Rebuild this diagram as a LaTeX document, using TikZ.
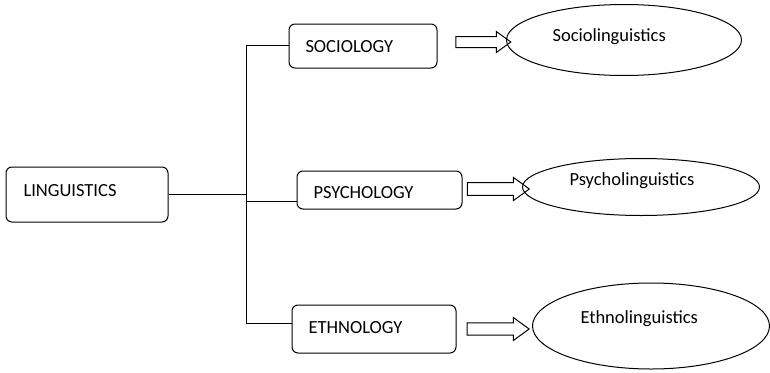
\documentclass[tikz,border=0pt]{standalone}
\usepackage{fontspec}
\setmainfont{Carlito}
\usetikzlibrary{shapes.geometric,shapes.arrows}
\begin{document}
\begin{tikzpicture}[x=1pt,y=-1pt,
  line width=1pt,
  box/.style={draw,rounded corners=6pt,inner sep=0pt},
  oval/.style={draw,ellipse,inner sep=0pt},
  txt/.style={anchor=base west,inner sep=0pt,font=\fontsize{18.5}{22}\selectfont},
  harrow/.style={draw,single arrow,inner sep=5pt,single arrow head extend=5pt,single arrow tip angle=72,minimum height=#1},
  link/.style={draw}]
\useasboundingbox (0,0) rectangle (770,372);
% boxes
\node[box,minimum width=162pt,minimum height=55pt] (ling) at (87,194.5) {};
\node[box,minimum width=148pt,minimum height=44pt] (soc) at (363,46) {};
\node[box,minimum width=165pt,minimum height=38pt] (psy) at (379.5,190) {};
\node[box,minimum width=164pt,minimum height=48pt] (eth) at (374,329) {};
\node[txt] (lingt) at (23,196) {LINGUISTICS};
\node[txt] (soct) at (305,52) {SOCIOLOGY};
\node[txt] (psyt) at (313,198) {PSYCHOLOGY};
\node[txt] (etht) at (308,333) {ETHNOLOGY};
% ellipses
\node[oval,minimum width=235pt,minimum height=71pt] (socl) at (624,40) {};
\node[oval,minimum width=237pt,minimum height=57pt] (psyl) at (641,187) {};
\node[oval,minimum width=237pt,minimum height=86pt] (ethl) at (651,326) {};
\node[txt] (soclt) at (552,41) {Sociolinguistics};
\node[txt] (psylt) at (569,185) {Psycholinguistics};
\node[txt] (ethlt) at (580,323) {Ethnolinguistics};
% hollow arrows
\node[harrow=55pt,minimum width=20pt] (a1) at (479.5,42) {};
\node[harrow=62pt,minimum width=23pt,inner sep=5.5pt] (a2) at (494,189) {};
\node[harrow=62pt,minimum width=23pt] (a3) at (494,329) {};
% connectors
\coordinate (jtop) at (246,45);
\coordinate (jmid) at (246,194);
\coordinate (jpsy) at (246,201);
\coordinate (jbot) at (246,323);
\draw (ling.east |- jmid) -- (jmid);
\draw (jtop) -- (jbot);
\draw (jtop) -- (soc.west |- jtop);
\draw (jpsy) -- (psy.west |- jpsy);
\draw (jbot) -- (eth.west |- jbot);
\end{tikzpicture}
\end{document}
